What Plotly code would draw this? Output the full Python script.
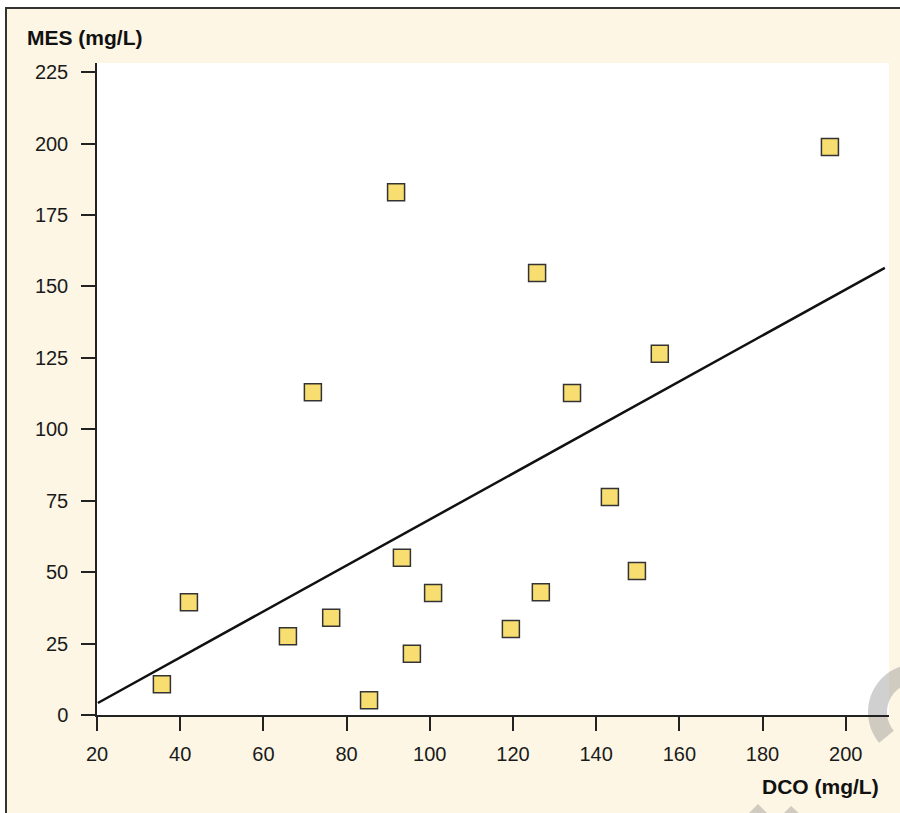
import numpy as np
import plotly.graph_objects as go

# ---- data ----
dco = [35.6, 42.1, 65.9, 71.9, 76.3, 85.4, 91.9, 93.3, 95.7, 100.8,
       119.5, 125.8, 126.7, 134.2, 143.3, 149.8, 155.3, 196.2]
mes = [10.8, 39.5, 27.6, 113.0, 34.0, 5.2, 183.0, 55.0, 21.4, 42.7,
       30.1, 154.7, 43.0, 112.7, 76.3, 50.4, 126.4, 198.8]
fit_x = [20.2, 209.4]
fit_y = [4.2, 156.5]
x_ticks = [20, 40, 60, 80, 100, 120, 140, 160, 180, 200]
y_ticks = [0, 25, 50, 75, 100, 125, 150, 175, 200, 225]

# ---- layout geometry ----
W, H = 900, 813
L, R, T, B = 97, 11, 63, 98
PW, PH = W - L - R, H - T - B
CREAM = "#FDF6E4"
FONT = "Liberation Sans, Arial, Helvetica, sans-serif"


def px(x):
    return (x - L) / PW


def py(y):
    return (H - B - y) / PH


fig = go.Figure()
fig.add_trace(go.Scatter(x=fit_x, y=fit_y, mode="lines",
                         line=dict(color="#111111", width=2.5),
                         hoverinfo="skip", showlegend=False))
fig.add_trace(go.Scatter(x=dco, y=mes, mode="markers",
                         marker=dict(symbol="square", size=17, color="#F8DE70",
                                     line=dict(color="#333333", width=1.5)),
                         showlegend=False))

shapes = []
# outer frame with cream fill
shapes.append(dict(type="rect", xref="paper", yref="paper", layer="below",
                   x0=px(6), x1=px(W + 20), y0=py(H + 20), y1=py(8),
                   fillcolor=CREAM, line=dict(color="#333333", width=2)))
# white plotting area
shapes.append(dict(type="rect", xref="paper", yref="paper", layer="below",
                   x0=0, x1=1, y0=0, y1=py(T),
                   fillcolor="white", line=dict(width=0)))
# decorative grey arc (bottom-right)
cx, cy, ro, ri = 916, 712, 48, 29
a = np.radians(np.linspace(140, 268, 40))
outer = [(cx + ro * np.cos(t), cy + ro * np.sin(t)) for t in a]
inner = [(cx + ri * np.cos(t), cy + ri * np.sin(t)) for t in a[::-1]]
pts = outer + inner
path = "M " + " L ".join(f"{px(x):.5f},{py(y):.5f}" for x, y in pts) + " Z"
shapes.append(dict(type="path", xref="paper", yref="paper", layer="below",
                   path=path, fillcolor="rgba(150,150,150,0.45)", line=dict(width=0)))
for tri in ([(746, 816), (758, 804), (770, 816)], [(781, 816), (791, 806), (802, 816)]):
    p = "M " + " L ".join(f"{px(x):.5f},{py(y):.5f}" for x, y in tri) + " Z"
    shapes.append(dict(type="path", xref="paper", yref="paper", layer="below",
                       path=p, fillcolor="rgba(150,150,150,0.45)", line=dict(width=0)))

axis_common = dict(showline=True, linecolor="#222222", linewidth=1.5,
                   ticks="outside", ticklen=14, tickwidth=1.5, tickcolor="#222222",
                   showgrid=False, zeroline=False,
                   tickfont=dict(family=FONT, size=20, color="#1a1a1a"))

fig.update_layout(
    width=W, height=H,
    margin=dict(l=L, r=R, t=T, b=B, pad=0),
    paper_bgcolor="white", plot_bgcolor="rgba(0,0,0,0)",
    shapes=shapes,
    xaxis=dict(range=[20, 210.4], tickvals=x_ticks, ticklabelstandoff=6, **axis_common),
    yaxis=dict(range=[0, 228.2], tickvals=y_ticks, ticklabelstandoff=9, **axis_common),
    annotations=[
        dict(text="<b>MES (mg/L)</b>", xref="paper", yref="paper",
             x=px(25), y=py(37), xanchor="left", yanchor="middle", showarrow=False,
             font=dict(family=FONT, size=21, color="#111111")),
        dict(text="<b>DCO (mg/L)</b>", xref="paper", yref="paper",
             x=px(881), y=py(786), xanchor="right", yanchor="middle", showarrow=False,
             font=dict(family=FONT, size=21, color="#111111")),
    ],
)

fig.write_html("out.html", config={"displayModeBar": False},
               post_script="document.body.style.margin='0';document.body.style.overflow='hidden';")
